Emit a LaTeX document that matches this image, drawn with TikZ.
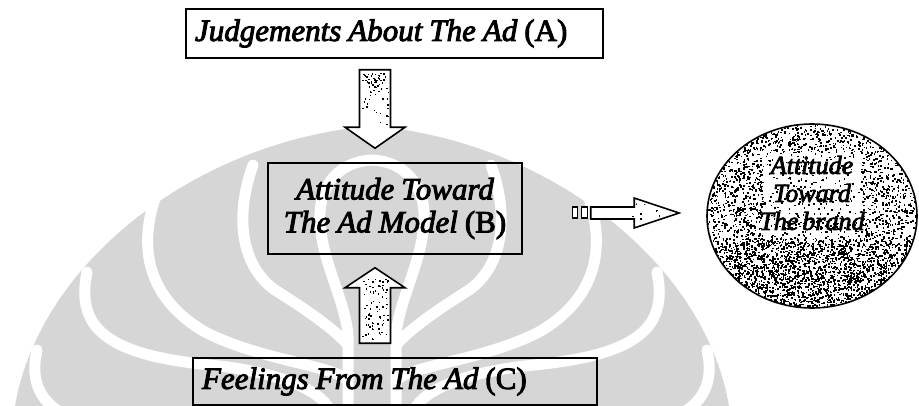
\documentclass[tikz,border=0pt]{standalone}
\usepackage{fontspec}
\setmainfont{Liberation Serif}
\newfontfamily\scanfont{Liberation Serif}[UprightFeatures={FakeBold=3},ItalicFeatures={FakeBold=3}]
\newcommand\wsp{\hspace{7pt}}
\usetikzlibrary{calc,shapes.geometric}
\definecolor{wm}{HTML}{D6D6D6}
\begin{document}
\begin{tikzpicture}[x=1pt,y=-1pt,
  box/.style={draw=black,line width=1.5pt,rectangle,inner ysep=0pt,font=\scanfont\itshape\fontsize{31}{33}\selectfont},
  barrow/.style={draw=black,line width=1.6pt,fill=white,line join=miter},
  wband/.style={draw=white,line width=11pt,line cap=round}]
\useasboundingbox (0,0) rectangle (919,406);
% ---------- watermark ----------
\fill[wm] (15,406) .. controls (40,260) and (200,140) .. (372,126) .. controls (544,140) and (704,260) .. (729,406) -- cycle;
\foreach \s/\m in {0/1,744/-1}{
\begin{scope}[xshift=\s pt,xscale=\m]
  \draw[wband] (372,160) .. controls (335,162) and (318,190) .. (320,222) .. controls (322,262) and (345,300) .. (348,335) -- (348,410);
  \draw[wband] (253,165) .. controls (235,215) and (240,265) .. (275,290) .. controls (310,312) and (335,330) .. (348,345);
  \draw[wband] (158,190) .. controls (135,250) and (150,300) .. (205,332) .. controls (260,360) and (330,365) .. (348,380);
  \draw[wband] (87,272) .. controls (75,330) and (110,355) .. (210,365) .. controls (280,372) and (320,390) .. (330,410);
  \draw[wband] (37,350) .. controls (30,380) and (40,400) .. (60,412);
\end{scope}}
% ---------- boxes ----------
\node[box,text width=399pt,inner xsep=9pt,minimum height=49pt,align=left] (A) at (394.5,33.5) {Judgements\wsp About\wsp The\wsp Ad\wsp{\upshape(A)}};
\node[box,text width=236pt,inner xsep=9pt,minimum height=91pt,align=center] (B) at (395,208.5) {Attitude\wsp Toward\\The\wsp Ad\wsp Model\wsp{\upshape(B)}};
\node[box,text width=386pt,inner xsep=9pt,minimum height=47pt,align=left] (C) at (395,381.5) {Feelings\wsp From\wsp The\wsp Ad\wsp{\upshape(C)}};
% ---------- ellipse texture ----------
\pgfmathsetseed{7}
\begin{scope}
  \clip (812,216) ellipse [x radius=105, y radius=92];
  \foreach \i in {1,...,3300}{%
    \pgfmathsetmacro{\a}{360*rnd}\pgfmathsetmacro{\r}{sqrt(rnd)}%
    \pgfmathsetmacro{\px}{812+105*\r*cos(\a)}\pgfmathsetmacro{\py}{216+92*\r*sin(\a)}%
    \pgfmathtruncatemacro{\keep}{(abs(\px-812)<50 && \py>152 && \py<238) ? (rnd<0.3) : 1}%
    \ifnum\keep=1 \fill (\px,\py) rectangle ++(1.6,1.6);\fi}
  \foreach \i in {1,...,1000}{%
    \pgfmathsetmacro{\a}{20+140*rnd}\pgfmathsetmacro{\r}{sqrt(rnd)}%
    \pgfmathsetmacro{\px}{812+105*\r*cos(\a)}\pgfmathsetmacro{\py}{216+92*\r*sin(\a)}%
    \pgfmathtruncatemacro{\keep}{(abs(\px-812)<50 && \py>152 && \py<238) ? (rnd<0.3) : 1}%
    \ifnum\keep=1 \fill (\px,\py) rectangle ++(1.6,1.6);\fi}
\end{scope}
\node[ellipse,draw=black,line width=1.6pt,minimum width=210pt,minimum height=184pt,inner sep=0pt] (D) at (812,216) {};
\node[font=\scanfont\itshape\fontsize{26}{28}\selectfont,align=center] (Dt) at ($(D.center)+(0,-23)$) {Attitude\\Toward\\The\hspace{4pt}brand};
% ---------- block arrows ----------
% down arrow A -> B
\coordinate (dT) at ($(A.south)+(-19.5,11)$);
\coordinate (dE) at ($(B.north)+(-20,-14)$);
\coordinate (dH) at ($(dE)+(0,-21)$);
\draw[barrow] ($(dT)+(-15.5,0)$) -- ($(dT)+(15.5,0)$) -- ($(dH)+(15.5,0)$) -- ($(dH)+(30,0)$) -- (dE) -- ($(dH)+(-30,0)$) -- ($(dH)+(-15.5,0)$) -- cycle;
\begin{scope}
  \clip ($(dT)+(-14,2)$) rectangle ($(dH)+(14,10)$);
  \foreach \i in {1,...,70}{%
    \pgfmathsetmacro{\u}{rnd}\pgfmathsetmacro{\v}{rnd*rnd}%
    \fill ($(dT)+({-13+26*\u},{3+60*\v})$) rectangle ++(1.5,1.5);}
\end{scope}
% up arrow C -> B
\coordinate (uT) at ($(C.north)+(-20,-14)$);
\coordinate (uE) at ($(B.south)+(-20,13)$);
\coordinate (uH) at ($(uE)+(0,20)$);
\draw[barrow] ($(uT)+(-15.5,0)$) -- ($(uT)+(15.5,0)$) -- ($(uH)+(15.5,0)$) -- ($(uH)+(30,0)$) -- (uE) -- ($(uH)+(-30,0)$) -- ($(uH)+(-15.5,0)$) -- cycle;
\begin{scope}
  \clip ($(uT)+(-14,-3)$) rectangle ($(uH)+(14,-8)$);
  \foreach \i in {1,...,80}{%
    \pgfmathsetmacro{\u}{rnd}\pgfmathsetmacro{\v}{rnd}%
    \fill ($(uT)+({-13+26*\u},{-4-66*\v})$) rectangle ++(1.5,1.5);}
\end{scope}
% right arrow B -> D
\coordinate (rT) at ($(B.east)+(68,4.5)$);
\coordinate (rE) at ($(D.west)+(-27,-3)$);
\coordinate (rH) at ($(rE)+(-45,0)$);
\draw[draw=black,line width=1.3pt,fill=white] ($(rT)+(-18,-6)$) rectangle ($(rT)+(-13,5)$);
\draw[draw=black,line width=1.3pt,fill=white] ($(rT)+(-9,-6)$) rectangle ($(rT)+(-3,5)$);
\draw[barrow] ($(rT)+(0,-6)$) -- ($(rH)+(0,-6)$) -- ($(rH)+(0,-15)$) -- (rE) -- ($(rH)+(0,15)$) -- ($(rH)+(0,6)$) -- ($(rT)+(0,6)$) -- cycle;
\begin{scope}
  \clip ($(rT)+(15,-4)$) -- ($(rH)+(0,-4)$) -- ($(rH)+(3,-11)$) -- ($(rE)+(-8,0)$) -- ($(rH)+(3,11)$) -- ($(rH)+(0,4)$) -- ($(rT)+(15,4)$) -- cycle;
  \foreach \i in {1,...,40}{%
    \pgfmathsetmacro{\u}{sqrt(rnd)}\pgfmathsetmacro{\v}{rnd}%
    \fill ($(rT)+({15+70*\u},{-12+24*\v})$) rectangle ++(1.5,1.5);}
\end{scope}
\end{tikzpicture}
\end{document}
